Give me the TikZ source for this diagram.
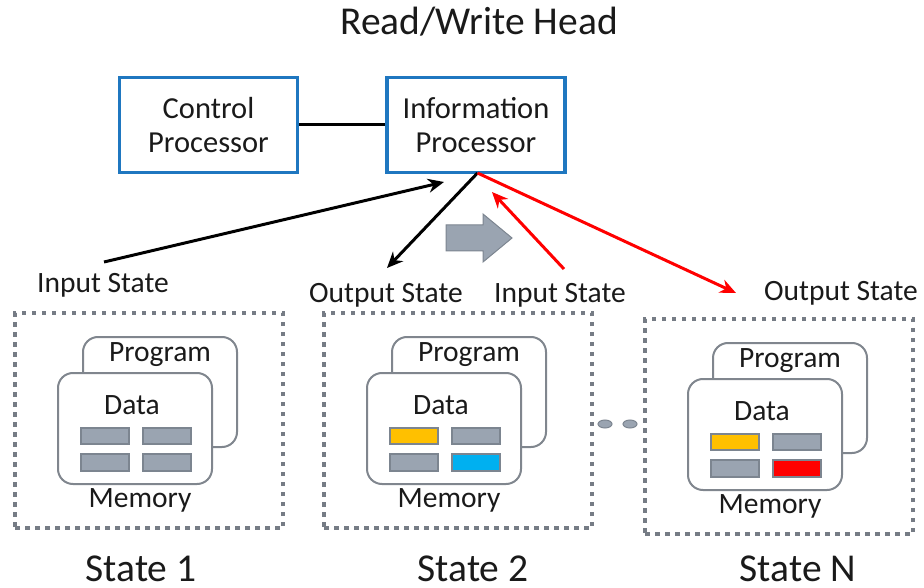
\documentclass[tikz,border=0pt]{standalone}
\usepackage{fontspec}
\setmainfont{Carlito}
\usetikzlibrary{arrows.meta}

\definecolor{boxblue}{HTML}{1F77C0}
\definecolor{dotgray}{HTML}{767C85}
\definecolor{cardgray}{HTML}{80868E}
\definecolor{cellgray}{HTML}{9AA4B1}
\definecolor{celledge}{HTML}{7C8590}
\definecolor{cellyellow}{HTML}{FFC000}
\definecolor{cellblue}{HTML}{00B0F0}
\definecolor{cellred}{HTML}{FF0000}
\definecolor{ink}{HTML}{1A1A1A}

\tikzset{
  txt/.style={inner sep=0pt, text=ink, font=\fontsize{29.5}{32}\selectfont},
  bigtxt/.style={inner sep=0pt, text=ink, font=\fontsize{39.5}{42}\selectfont},
  procbox/.style={draw=boxblue, line width=3.2pt, minimum width=178pt, minimum height=95pt,
                  align=center, text=ink, font=\fontsize{30.5}{34}\selectfont},
  dotbox/.style={draw=dotgray, line width=4.5pt, dash pattern=on 4.5pt off 5.5pt,
                 minimum width=268pt, minimum height=215pt, inner sep=0pt},
  card/.style={draw=cardgray, line width=2pt, fill=white, rounded corners=15pt},
  cell/.style={draw=celledge, line width=1.5pt},
  blackarrow/.style={draw=black, line width=3pt, -{Stealth[length=16pt,width=14pt]}},
  redarrow/.style={draw=cellred, line width=3pt, -{Stealth[length=16pt,width=14pt]}},
  plainline/.style={draw=black, line width=3pt},
}

% one machine state: dotted frame, program and data cards, memory cells, label
% #1,#2 offset, #3 name prefix, #4 top-left cell colour, #5 bottom-right cell colour,
% #6 label, #7 label centre x
\newcommand\memstate[7]{%
  \begin{scope}[shift={(#1,#2)}]
    \node[dotbox] (#3box) at (149,420.5) {};
    \draw[card] (83,337) rectangle (237,447);
    \node[txt] (#3prog) at (160,355) {Program};
    \draw[card] (58,373) rectangle (212,484);
    \node[txt] (#3data) at (132,405) {Data};
    \draw[cell, fill=#4] (81,428) rectangle (129,444);
    \draw[cell, fill=cellgray] (143,428) rectangle (191,444);
    \draw[cell, fill=cellgray] (81,454) rectangle (129,471);
    \draw[cell, fill=#5] (143,454) rectangle (191,471);
    \node[txt] (#3mem) at (140,500) {Memory};
  \end{scope}
  \node[bigtxt] (#3label) at (#7,568.5) {#6};
}

\begin{document}
\begin{tikzpicture}[x=1pt, y=-1pt]
  \useasboundingbox (0,0) rectangle (924,588);

  % read/write head
  \node[bigtxt] (title) at (479,22) {Read/Write Head};
  \node[procbox] (cp) at (208.5,125) {Control\\Processor};
  \node[procbox] (ip) at (476,125) {Information\\Processor};
  \draw[plainline] (cp.east) -- (ip.west);

  % tape of states
  \memstate{0}{0}{sone}{cellgray}{cellgray}{State 1}{141}
  \memstate{309}{0}{stwo}{cellyellow}{cellblue}{State 2}{473}
  \memstate{630}{6}{sn}{cellyellow}{cellred}{State N}{798}

  % ellipsis between states
  \draw[draw=celledge, fill=cellgray, line width=1pt] (605,424) ellipse [x radius=7pt, y radius=4pt];
  \draw[draw=celledge, fill=cellgray, line width=1pt] (630,424) ellipse [x radius=7pt, y radius=4pt];

  % state labels at the tape
  \node[txt] (inone) at (103,285) {Input State};
  \node[txt] (outtwo) at (386,295) {Output State};
  \node[txt] (intwo) at (560,295) {Input State};
  \node[txt] (outn) at (841,293) {Output State};

  % arrow end points
  \coordinate (ipfoot) at (477.5,173);
  \coordinate (inonetip) at (104,262);
  \coordinate (inonehead) at (444,182);
  \coordinate (outtwotip) at (387,268);
  \coordinate (intwotail) at (564,269);
  \coordinate (intwohead) at (492,192);
  \coordinate (outntip) at (736,293);

  \draw[blackarrow] (inonetip) -- (inonehead);
  \draw[blackarrow] (ipfoot) -- (outtwotip);
  \draw[redarrow] (intwotail) -- (intwohead);
  \draw[redarrow] (ipfoot) -- (outntip);

  % step arrow
  \draw[draw=celledge, fill=cellgray, line width=1pt]
    (446,225) -- (483,225) -- (483,214) -- (512,238) -- (483,262) -- (483,251) -- (446,251) -- cycle;
\end{tikzpicture}
\end{document}
